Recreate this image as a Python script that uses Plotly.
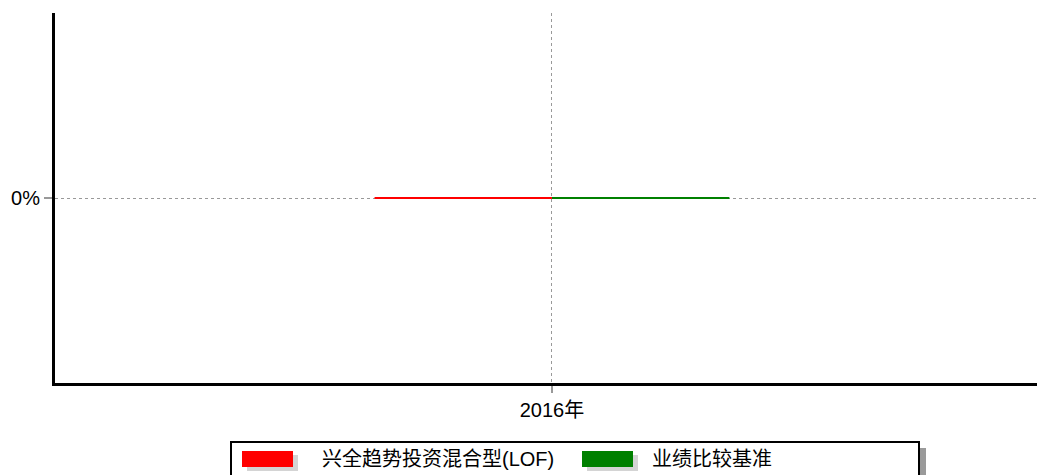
import plotly.graph_objects as go

# ---- data ----
categories = ["2016年"]
fund_name = "兴全趋势投资混合型(LOF)"
bench_name = "业绩比较基准"
fund_values = [0.0]
bench_values = [0.0]
y_tick_vals = [0]
y_tick_text = ["0%"]

FONT = "Liberation Sans, Arial, Noto Sans CJK SC, sans-serif"
RED = "#ff0000"
GREEN = "#008000"

W, H = 1037, 475
L, R, T, B = 55, 1037, 13, 383  # plot area in page pixels


def px(x):
    return (x - L) / (R - L)


def py(y):
    return (B - y) / (B - T)


fig = go.Figure()
fig.add_trace(go.Bar(x=categories, y=fund_values, name=fund_name,
                     marker=dict(color=RED, line=dict(color=RED, width=2)),
                     showlegend=False))
fig.add_trace(go.Bar(x=categories, y=bench_values, name=bench_name,
                     marker=dict(color=GREEN, line=dict(color=GREEN, width=2)),
                     showlegend=False))

shapes = []
annotations = []
# legend shadow + box
shapes.append(dict(type="rect", xref="paper", yref="paper",
                   x0=px(235), x1=px(926), y0=py(495), y1=py(448),
                   fillcolor="#9a9a9a", line=dict(width=0), layer="above"))
shapes.append(dict(type="rect", xref="paper", yref="paper",
                   x0=px(231), x1=px(919), y0=py(495), y1=py(442),
                   fillcolor="white", line=dict(color="black", width=2), layer="above"))
# swatches with shadows
for x0, color in [(242, RED), (582, GREEN)]:
    shapes.append(dict(type="rect", xref="paper", yref="paper",
                       x0=px(x0 + 5), x1=px(x0 + 56), y0=py(471), y1=py(455),
                       fillcolor="#d4d4d4", line=dict(width=0), layer="above"))
    shapes.append(dict(type="rect", xref="paper", yref="paper",
                       x0=px(x0), x1=px(x0 + 51), y0=py(467), y1=py(451),
                       fillcolor=color, line=dict(width=0), layer="above"))
annotations.append(dict(xref="paper", yref="paper", x=px(438), y=py(459),
                        text=fund_name, showarrow=False, xanchor="center", yanchor="middle",
                        font=dict(family=FONT, size=20, color="black")))
annotations.append(dict(xref="paper", yref="paper", x=px(712), y=py(459),
                        text=bench_name, showarrow=False, xanchor="center", yanchor="middle",
                        font=dict(family=FONT, size=20, color="black")))

fig.update_layout(
    width=W, height=H,
    margin=dict(l=L, r=W - R, t=T, b=H - B),
    paper_bgcolor="white", plot_bgcolor="white",
    barmode="group", bargap=0.643,
    font=dict(family=FONT, size=20, color="black"),
    shapes=shapes, annotations=annotations,
    showlegend=False,
)
fig.update_xaxes(type="category", range=[-0.5, 0.488],
                 showline=True, linecolor="black", linewidth=3,
                 showgrid=True, gridcolor="#999999", griddash="dot", gridwidth=1,
                 ticks="outside", ticklen=7, tickcolor="#999999", tickwidth=2,
                 tickfont=dict(family=FONT, size=20, color="black"))
fig.update_yaxes(range=[-1, 1], tickvals=y_tick_vals, ticktext=y_tick_text,
                 showline=True, linecolor="black", linewidth=3,
                 showgrid=True, gridcolor="#999999", griddash="dot", gridwidth=1,
                 zeroline=False,
                 ticks="outside", ticklen=8, tickcolor="#999999", tickwidth=2,
                 tickfont=dict(family=FONT, size=20, color="black"))

fig.write_html(
    "out.html",
    config={"displayModeBar": False},
    post_script=(
        "document.body.style.margin='0';"
        "document.body.style.overflow='hidden';"
        "document.documentElement.style.overflow='hidden';"
    ),
)
